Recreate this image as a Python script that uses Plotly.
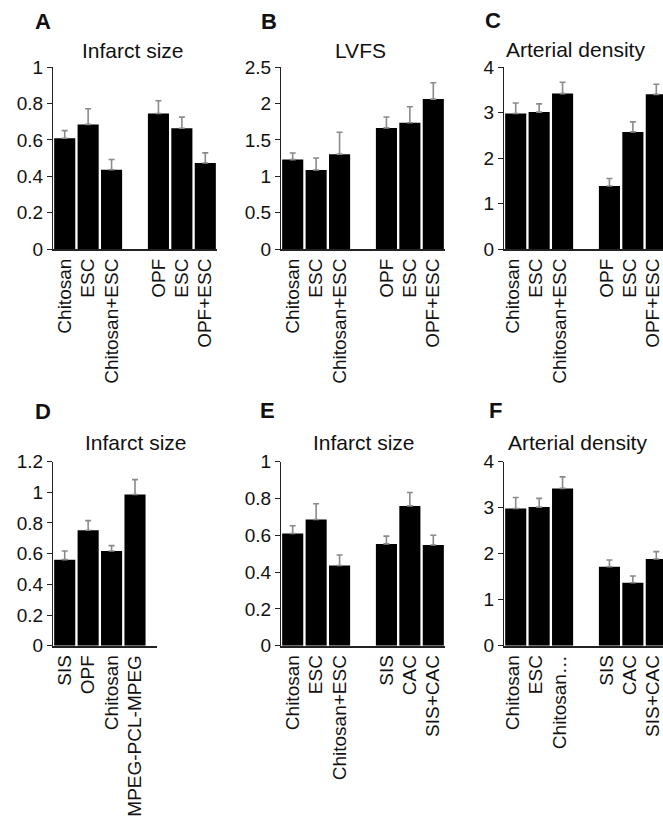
import plotly.graph_objects as go

W, H = 663, 825
FONT = "Liberation Sans, Arial, Helvetica, sans-serif"

# ---------------- data ----------------
# Panel A – Infarct size
a_groups = [["Chitosan", "ESC", "Chitosan+ESC"], ["OPF", "ESC", "OPF+ESC"]]
a_values = [0.609, 0.685, 0.436, 0.745, 0.664, 0.473]
a_errors = [0.042, 0.086, 0.057, 0.070, 0.061, 0.056]
a_yticks = [0, 0.2, 0.4, 0.6, 0.8, 1]

# Panel B – LVFS
b_groups = [["Chitosan", "ESC", "Chitosan+ESC"], ["OPF", "ESC", "OPF+ESC"]]
b_values = [1.23, 1.088, 1.305, 1.665, 1.736, 2.06]
b_errors = [0.09, 0.165, 0.30, 0.15, 0.218, 0.225]
b_yticks = [0, 0.5, 1, 1.5, 2, 2.5]

# Panel C – Arterial density
c_groups = [["Chitosan", "ESC", "Chitosan+ESC"], ["OPF", "ESC", "OPF+ESC"]]
c_values = [2.98, 3.01, 3.416, 1.39, 2.576, 3.40]
c_errors = [0.23, 0.18, 0.25, 0.165, 0.22, 0.22]
c_yticks = [0, 1, 2, 3, 4]

# Panel D – Infarct size
d_groups = [["SIS", "OPF", "Chitosan", "MPEG-PCL-MPEG"]]
d_values = [0.561, 0.752, 0.617, 0.985]
d_errors = [0.056, 0.063, 0.035, 0.097]
d_yticks = [0, 0.2, 0.4, 0.6, 0.8, 1, 1.2]

# Panel E – Infarct size
e_groups = [["Chitosan", "ESC", "Chitosan+ESC"], ["SIS", "CAC", "SIS+CAC"]]
e_values = [0.609, 0.685, 0.436, 0.553, 0.759, 0.547]
e_errors = [0.042, 0.086, 0.057, 0.042, 0.073, 0.053]
e_yticks = [0, 0.2, 0.4, 0.6, 0.8, 1]

# Panel F – Arterial density
f_groups = [["Chitosan", "ESC", "Chitosan…"], ["SIS", "CAC", "SIS+CAC"]]
f_values = [2.98, 3.01, 3.416, 1.717, 1.37, 1.885]
f_errors = [0.24, 0.19, 0.25, 0.146, 0.145, 0.158]
f_yticks = [0, 1, 2, 3, 4]

panel_letters = ["A", "B", "C", "D", "E", "F"]
panel_titles = ["Infarct size", "LVFS", "Arterial density",
                "Infarct size", "Infarct size", "Arterial density"]

# ---------------- layout geometry (pixels) ----------------
SLOT = 23.43
panels = [
    (a_groups, a_values, a_errors, a_yticks, (53, 217), (67, 249.3)),
    (b_groups, b_values, b_errors, b_yticks, (281, 445), (67, 249.3)),
    (c_groups, c_values, c_errors, c_yticks, (504, 663), (67, 249.3)),
    (d_groups, d_values, d_errors, d_yticks, (53, 157), (461.5, 645.8)),
    (e_groups, e_values, e_errors, e_yticks, (281, 445), (461.5, 645.8)),
    (f_groups, f_values, f_errors, f_yticks, (504, 663), (461.5, 645.8)),
]
label_shift = [0, 0, -3, 0, 0, -3]
title_pos = [(132.5, 51), (361, 51), (575, 50), (135.8, 442), (363.5, 442), (577, 442)]
letter_pos = [(43.3, 21.7), (269.3, 21.7), (493.3, 20.5), (43.3, 411.7), (267.7, 410), (495.3, 410)]


def px_x(v):
    return v / W


def px_y(v):
    return 1 - v / H


def positions(groups):
    xs, labels, p = [], [], 0
    for gi, g in enumerate(groups):
        if gi > 0:
            p += 1
        for lab in g:
            xs.append(p)
            labels.append(lab)
            p += 1
    return xs, labels


fig = go.Figure()
layout = dict(
    template="none",
    width=W, height=H, autosize=False,
    margin=dict(l=0, r=0, t=0, b=0, pad=0, autoexpand=False),
    paper_bgcolor="white", plot_bgcolor="white",
    showlegend=False, bargap=0.1,
    font=dict(family=FONT, size=19, color="#111111"),
)
annotations = []

for i, (groups, vals, errs, yt, xd, yd) in enumerate(panels):
    n = i + 1
    xs, labels = positions(groups)
    ax = "x" if n == 1 else f"x{n}"
    ay = "y" if n == 1 else f"y{n}"
    fig.add_trace(go.Bar(
        x=xs, y=vals, xaxis=ax, yaxis=ay,
        marker=dict(color="black", line=dict(width=0)),
        error_y=dict(type="data", symmetric=False, array=errs,
                     arrayminus=[0] * len(errs), color="#8a8a8a",
                     thickness=1.6, width=3),
        hoverinfo="skip",
    ))
    nslots = (xd[1] - xd[0]) / SLOT
    layout["xaxis" if n == 1 else f"xaxis{n}"] = dict(
        domain=[px_x(xd[0]), min(1.0, px_x(xd[1]))],
        range=[-0.5, -0.5 + nslots], automargin=False,
        anchor=ay, showline=True, linecolor="#222222", linewidth=1.5,
        ticks="", tickmode="array", tickvals=xs, ticktext=labels,
        tickangle=-90, ticklabeloverflow="allow",
        ticklabelshift=label_shift[i],
        tickfont=dict(size=19, family=FONT, color="#111111"),
        showgrid=False, zeroline=False, fixedrange=True,
    )
    layout["yaxis" if n == 1 else f"yaxis{n}"] = dict(
        domain=[px_y(yd[1]), px_y(yd[0])],
        range=[0, yt[-1]], automargin=False,
        anchor=ax, showline=True, linecolor="#222222", linewidth=1.2,
        ticks="outside", ticklen=5, tickwidth=1.2, tickcolor="#222222",
        tickmode="array", tickvals=yt,
        tickfont=dict(size=19, family=FONT, color="#111111"),
        showgrid=False, zeroline=False, fixedrange=True,
    )
    tx, ty = title_pos[i]
    annotations.append(dict(
        text=panel_titles[i], x=px_x(tx), y=px_y(ty), xref="paper", yref="paper",
        xanchor="center", yanchor="middle", showarrow=False,
        font=dict(size=21, family=FONT, color="#111111"),
    ))
    lx, ly = letter_pos[i]
    annotations.append(dict(
        text=f"<b>{panel_letters[i]}</b>", x=px_x(lx), y=px_y(ly),
        xref="paper", yref="paper", xanchor="center", yanchor="middle",
        showarrow=False, font=dict(size=22, family=FONT, color="#111111"),
    ))

layout["annotations"] = annotations
fig.update_layout(**layout)
fig.write_html(
    "out.html",
    config={"displayModeBar": False},
    post_script="document.body.style.margin='0';document.body.style.overflow='hidden';",
)
